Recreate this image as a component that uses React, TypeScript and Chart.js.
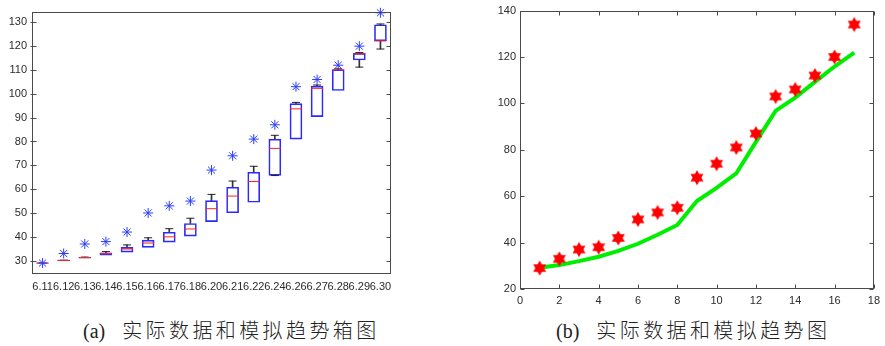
import React, { useEffect, useRef } from "react";
import { Chart, registerables } from "chart.js";

Chart.register(...registerables);

// ---------- Left chart: box plot data ----------
const dates = ["6.11", "6.12", "6.13", "6.14", "6.15", "6.16", "6.17", "6.18", "6.20", "6.21", "6.22", "6.24", "6.26", "6.27", "6.28", "6.29", "6.30"];
const boxQ1 = [28.9, 30.0, 31.1, 32.3, 33.6, 35.6, 37.8, 40.3, 46.4, 50.1, 54.5, 65.8, 81.0, 90.4, 101.4, 114.2, 122.2];
const boxQ3 = [29.0, 30.2, 31.4, 33.3, 35.6, 38.6, 41.9, 45.6, 55.2, 60.8, 67.1, 81.0, 95.9, 103.2, 110.1, 117.0, 129.0];
const boxMedian = [29.0, 30.1, 31.2, 32.9, 34.9, 37.4, 40.0, 43.3, 51.8, 57.1, 63.2, 77.1, 93.7, 102.3, 110.1, 116.8, 122.2];
const whiskerHigh = [29.0, 30.2, 31.5, 33.8, 36.6, 39.6, 43.4, 47.8, 57.8, 63.4, 69.6, 82.6, 96.4, 103.7, 110.5, 117.3, 129.3];
const whiskerLow = [null, null, null, null, null, null, null, null, null, null, null, 65.7, null, null, null, 111.2, 118.8];
const actualValues = [29, 33, 37, 38, 42, 50, 53, 55, 68, 74, 81, 87, 103, 106, 112, 120, 134];
const leftYTicks = [30, 40, 50, 60, 70, 80, 90, 100, 110, 120, 130];

// ---------- Right chart: trend data ----------
const dayIndex = [1, 2, 3, 4, 5, 6, 7, 8, 9, 10, 11, 12, 13, 14, 15, 16, 17];
const fittedValues = [29.2, 30.3, 32.0, 33.9, 36.4, 39.5, 43.4, 47.6, 57.9, 63.6, 69.8, 83.4, 96.8, 102.5, 109.3, 115.9, 121.9];

const tickFont = { family: "'Liberation Sans', Arial, sans-serif", size: 11 };
const tickColor = "#2b2b2b";

const framePlugin = {
  id: "frame",
  afterDraw(chart: any, _args: any, opts: any) {
    const { ctx, chartArea: a } = chart;
    const L = Math.round(a.left) + 0.5;
    const R = Math.round(a.right) - 0.5;
    const T = Math.round(a.top) + 0.5;
    const B = Math.round(a.bottom) - 0.5;
    ctx.save();
    ctx.strokeStyle = opts.color || "#444";
    ctx.lineWidth = 1;
    ctx.strokeRect(L, T, R - L, B - T);
    const len = opts.len || 4;
    const ys = chart.scales.y;
    ctx.beginPath();
    ys.ticks.forEach((t: any) => {
      const y = Math.round(ys.getPixelForValue(t.value)) + 0.5;
      ctx.moveTo(L - (opts.outer || 0), y);
      ctx.lineTo(L + len, y);
      ctx.moveTo(R - len, y);
      ctx.lineTo(R, y);
    });
    if (opts.xTicks) {
      const xs = chart.scales.x;
      xs.ticks.forEach((t: any) => {
        const x = Math.round(xs.getPixelForValue(t.value)) + 0.5;
        ctx.moveTo(x, B);
        ctx.lineTo(x, B - len);
        ctx.moveTo(x, T);
        ctx.lineTo(x, T + len);
      });
    }
    ctx.stroke();
    ctx.restore();
  },
};

function makeHexagram(): HTMLCanvasElement {
  const c = document.createElement("canvas");
  const s = 16;
  c.width = s;
  c.height = s;
  const g = c.getContext("2d")!;
  const cx = s / 2, cy = s / 2, r = 7.5;
  g.fillStyle = "#ff0000";
  [-90, 90].forEach((start) => {
    g.beginPath();
    for (let k = 0; k < 3; k++) {
      const ang = ((start + k * 120) * Math.PI) / 180;
      const px = cx + r * Math.cos(ang);
      const py = cy + r * Math.sin(ang);
      if (k === 0) g.moveTo(px, py);
      else g.lineTo(px, py);
    }
    g.closePath();
    g.fill();
  });
  return c;
}

function LeftChart() {
  const ref = useRef<HTMLCanvasElement>(null);
  useEffect(() => {
    const chart = new Chart(ref.current!, {
      type: "bar",
      data: {
        labels: dates,
        datasets: [
          {
            type: "line",
            label: "actual",
            data: actualValues,
            showLine: false,
            pointStyle: "star",
            pointRadius: 5,
            borderColor: "#2a3cff",
            backgroundColor: "#2a3cff",
            pointBorderWidth: 1,
            clip: false,
            order: 0,
          } as any,
          {
            type: "line",
            label: "median",
            data: boxMedian,
            showLine: false,
            pointStyle: "line",
            pointRadius: 6,
            borderColor: "#ff2020",
            pointBorderWidth: 1,
            order: 1,
          } as any,
          {
            type: "line",
            label: "capHigh",
            data: whiskerHigh,
            showLine: false,
            pointStyle: "line",
            pointRadius: 4,
            borderColor: "#222",
            pointBorderWidth: 1,
            order: 2,
          } as any,
          {
            type: "line",
            label: "capLow",
            data: whiskerLow,
            showLine: false,
            pointStyle: "line",
            pointRadius: 4,
            borderColor: "#222",
            pointBorderWidth: 1,
            order: 2,
          } as any,
          {
            type: "bar",
            label: "box",
            data: boxQ1.map((v, i) => [v, boxQ3[i]]),
            backgroundColor: "rgba(255,255,255,0)",
            borderColor: "#2a2aff",
            borderWidth: 1,
            borderSkipped: false,
            barThickness: 12,
            grouped: false,
            order: 3,
          } as any,
          {
            type: "bar",
            label: "whiskerHigh",
            data: whiskerHigh.map((v, i) => (v > boxQ3[i] ? [boxQ3[i], v] : null)),
            backgroundColor: "#333",
            borderWidth: 0,
            barThickness: 1,
            grouped: false,
            order: 4,
          } as any,
          {
            type: "bar",
            label: "whiskerLow",
            data: whiskerLow.map((v, i) => (v !== null && v < boxQ1[i] ? [v, boxQ1[i]] : null)),
            backgroundColor: "#333",
            borderWidth: 0,
            barThickness: 1,
            grouped: false,
            order: 4,
          } as any,
        ],
      },
      options: {
        animation: false,
        responsive: false,
        maintainAspectRatio: false,
        layout: { padding: { top: 6, right: 9, left: 0, bottom: 0 } },
        plugins: {
          legend: { display: false },
          tooltip: { enabled: false },
          frame: { color: "#4a4a4a", len: 4, outer: 2, xTicks: false },
        } as any,
        scales: {
          x: {
            type: "category",
            offset: true,
            grid: { display: false, drawTicks: false },
            border: { display: false },
            ticks: { autoSkip: false, maxRotation: 0, minRotation: 0, padding: 6, font: tickFont, color: tickColor },
            afterFit: (s: any) => { s.height = 26; },
          },
          y: {
            min: 24.4,
            max: 134.5,
            grid: { display: false, drawTicks: false },
            border: { display: false },
            ticks: { padding: 5, font: tickFont, color: tickColor },
            afterBuildTicks: (s: any) => { s.ticks = leftYTicks.map((v) => ({ value: v })); },
            afterFit: (s: any) => { s.width = 32; },
          },
        },
      },
      plugins: [framePlugin],
    } as any);
    return () => chart.destroy();
  }, []);
  return <canvas ref={ref} width={400} height={300} style={{ position: "absolute", left: 0, top: 0 }} />;
}

function RightChart() {
  const ref = useRef<HTMLCanvasElement>(null);
  useEffect(() => {
    const hex = makeHexagram();
    const chart = new Chart(ref.current!, {
      type: "line",
      data: {
        datasets: [
          {
            label: "actual",
            data: dayIndex.map((x, i) => ({ x, y: actualValues[i] })),
            showLine: false,
            pointStyle: hex,
            pointRadius: 8,
            clip: false,
            order: 0,
          } as any,
          {
            label: "fitted",
            data: dayIndex.map((x, i) => ({ x, y: fittedValues[i] })),
            borderColor: "#00ee00",
            borderWidth: 4,
            pointRadius: 0,
            tension: 0,
            order: 1,
          } as any,
        ],
      },
      options: {
        animation: false,
        responsive: false,
        maintainAspectRatio: false,
        layout: { padding: { top: 6, right: 6, left: 0, bottom: 0 } },
        plugins: {
          legend: { display: false },
          tooltip: { enabled: false },
          frame: { color: "#4a4a4a", len: 4, outer: 0, xTicks: true },
        } as any,
        scales: {
          x: {
            type: "linear",
            min: 0,
            max: 18,
            ticks: { stepSize: 2, padding: 5, font: tickFont, color: tickColor, maxRotation: 0 },
            grid: { display: false, drawTicks: false },
            border: { display: false },
            afterFit: (s: any) => { s.height = 21; },
          },
          y: {
            min: 20,
            max: 140,
            ticks: { stepSize: 20, padding: 4, font: tickFont, color: tickColor },
            grid: { display: false, drawTicks: false },
            border: { display: false },
            afterFit: (s: any) => { s.width = 40; },
          },
        },
      },
      plugins: [framePlugin],
    } as any);
    return () => chart.destroy();
  }, []);
  return <canvas ref={ref} width={405} height={310} style={{ position: "absolute", left: 480, top: 0 }} />;
}

const captionStyle: React.CSSProperties = {
  position: "absolute",
  top: 319,
  fontSize: 20,
  lineHeight: "22px",
  color: "#222",
  whiteSpace: "nowrap",
};
const latinStyle: React.CSSProperties = { fontFamily: "'Liberation Serif', 'Times New Roman', serif" };
const cjkStyle: React.CSSProperties = { fontFamily: "'Noto Sans CJK SC', sans-serif", letterSpacing: "3.4px", marginLeft: 17, fontWeight: 300 };

export default function App() {
  return (
    <div style={{ position: "absolute", left: 0, top: 0, width: 885, height: 346, background: "#fff", overflow: "hidden" }}>
      <LeftChart />
      <RightChart />
      <div style={{ ...captionStyle, left: 83 }}>
        <span style={latinStyle}>(a)</span>
        <span style={cjkStyle}>实际数据和模拟趋势箱图</span>
      </div>
      <div style={{ ...captionStyle, left: 556 }}>
        <span style={latinStyle}>(b)</span>
        <span style={cjkStyle}>实际数据和模拟趋势图</span>
      </div>
    </div>
  );
}
